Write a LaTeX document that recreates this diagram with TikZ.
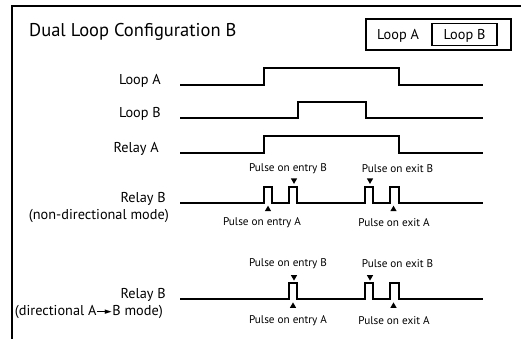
\documentclass[tikz,border=0pt]{standalone}
\usepackage{fontspec}
\setmainfont{PT Sans}
\newfontfamily\symfont{DejaVu Sans}
\usetikzlibrary{shapes.geometric}
\begin{document}
\begin{tikzpicture}[x=1pt,y=-1pt,
  sig/.style={line width=1.8pt, line join=miter},
  frame/.style={line width=2pt},
  title/.style={font=\fontsize{18.5}{20}\selectfont, inner sep=0pt},
  lab/.style={font=\fontsize{14.3}{15}\selectfont, inner sep=0pt},
  small/.style={font=\fontsize{11.2}{12}\selectfont, inner sep=0pt},
  down/.style={isosceles triangle, isosceles triangle apex angle=60, fill=black, inner sep=0pt, minimum width=6pt, minimum height=5.5pt, shape border rotate=-90, anchor=apex},
  up/.style={isosceles triangle, isosceles triangle apex angle=60, fill=black, inner sep=0pt, minimum width=6pt, minimum height=5.5pt, shape border rotate=90, anchor=apex}]
\useasboundingbox (0,0) rectangle (521,339);
% frame
\draw[frame] (521,6.5) -- (12,6.5) -- (12,339);
% title
\node[title, anchor=base west] (title) at (29,37) {Dual Loop Configuration B};
% legend
\draw[line width=1.5pt] (366,19) rectangle (511,50);
\draw[line width=1.2pt] (432,23.5) rectangle (497,45.5);
\node[lab, anchor=base] (legA) at (398,40) {Loop A};
\node[lab, anchor=base] (legB) at (464.5,40) {Loop B};
% signal labels
\node[lab, anchor=base east] (lLoopA) at (161,85) {Loop A};
\node[lab, anchor=base east] (lLoopB) at (161,118) {Loop B};
\node[lab, anchor=base east] (lRelayA) at (159,152.5) {Relay A};
\node[lab, anchor=base east] (lRelayB1) at (166,202) {Relay B};
\node[lab, anchor=base east] (lND) at (169,219) {(non-directional mode)};
\node[lab, anchor=base east] (lRelayB2) at (166,298.5) {Relay B};
\node[lab, anchor=base east] (lD) at (163,315) {(directional A\kern1pt\raisebox{3.2pt}{\rule{9pt}{1pt}}\kern-1.5pt{\symfont\fontsize{9}{10}\selectfont\raisebox{0.6pt}{►}}\kern0.5ptB mode)};
% waveforms
\draw[sig] (180,85) -- (264,85) -- (264,68.3) -- (399.3,68.3) -- (399.3,85) -- (483,85);
\draw[sig] (180,118.3) -- (297.7,118.3) -- (297.7,102.3) -- (365.7,102.3) -- (365.7,118.3) -- (483,118.3);
\draw[sig] (180,153.3) -- (264,153.3) -- (264,135.7) -- (399.3,135.7) -- (399.3,153.3) -- (483,153.3);
\draw[sig] (180,203.3) -- (264,203.3) -- (264,186.7) -- (272.3,186.7) -- (272.3,203.3)
  -- (288.7,203.3) -- (288.7,186.7) -- (297.3,186.7) -- (297.3,203.3)
  -- (364.7,203.3) -- (364.7,186.7) -- (373,186.7) -- (373,203.3)
  -- (390.3,203.3) -- (390.3,186.7) -- (398.7,186.7) -- (398.7,203.3) -- (483,203.3);
\draw[sig] (180,299.3)
  -- (288.7,299.3) -- (288.7,283.3) -- (297.3,283.3) -- (297.3,299.3)
  -- (364.7,299.3) -- (364.7,283.3) -- (373,283.3) -- (373,299.3)
  -- (390.3,299.3) -- (390.3,283.3) -- (398.7,283.3) -- (398.7,299.3) -- (483,299.3);
% markers non-directional
\node[down] (tEB1) at (294,184.3) {};
\node[down] (tXB1) at (370,184.3) {};
\node[up] (tEA1) at (268,205.3) {};
\node[up] (tXA1) at (393.5,205.3) {};
\node[small] (pEB1) at (288,168.3) {Pulse on entry B};
\node[small] (pXB1) at (397.5,168.3) {Pulse on exit B};
\node[small] (pEA1) at (262,223) {Pulse on entry A};
\node[small] (pXA1) at (394,223) {Pulse on exit A};
% markers directional
\node[down] (tEB2) at (294,281) {};
\node[down] (tXB2) at (370,281) {};
\node[up] (tEA2) at (293,302) {};
\node[up] (tXA2) at (393.5,302) {};
\node[small] (pEB2) at (288,263.3) {Pulse on entry B};
\node[small] (pXB2) at (397.5,263.3) {Pulse on exit B};
\node[small] (pEA2) at (288,321) {Pulse on entry A};
\node[small] (pXA2) at (394,321) {Pulse on exit A};
\end{tikzpicture}
\end{document}
